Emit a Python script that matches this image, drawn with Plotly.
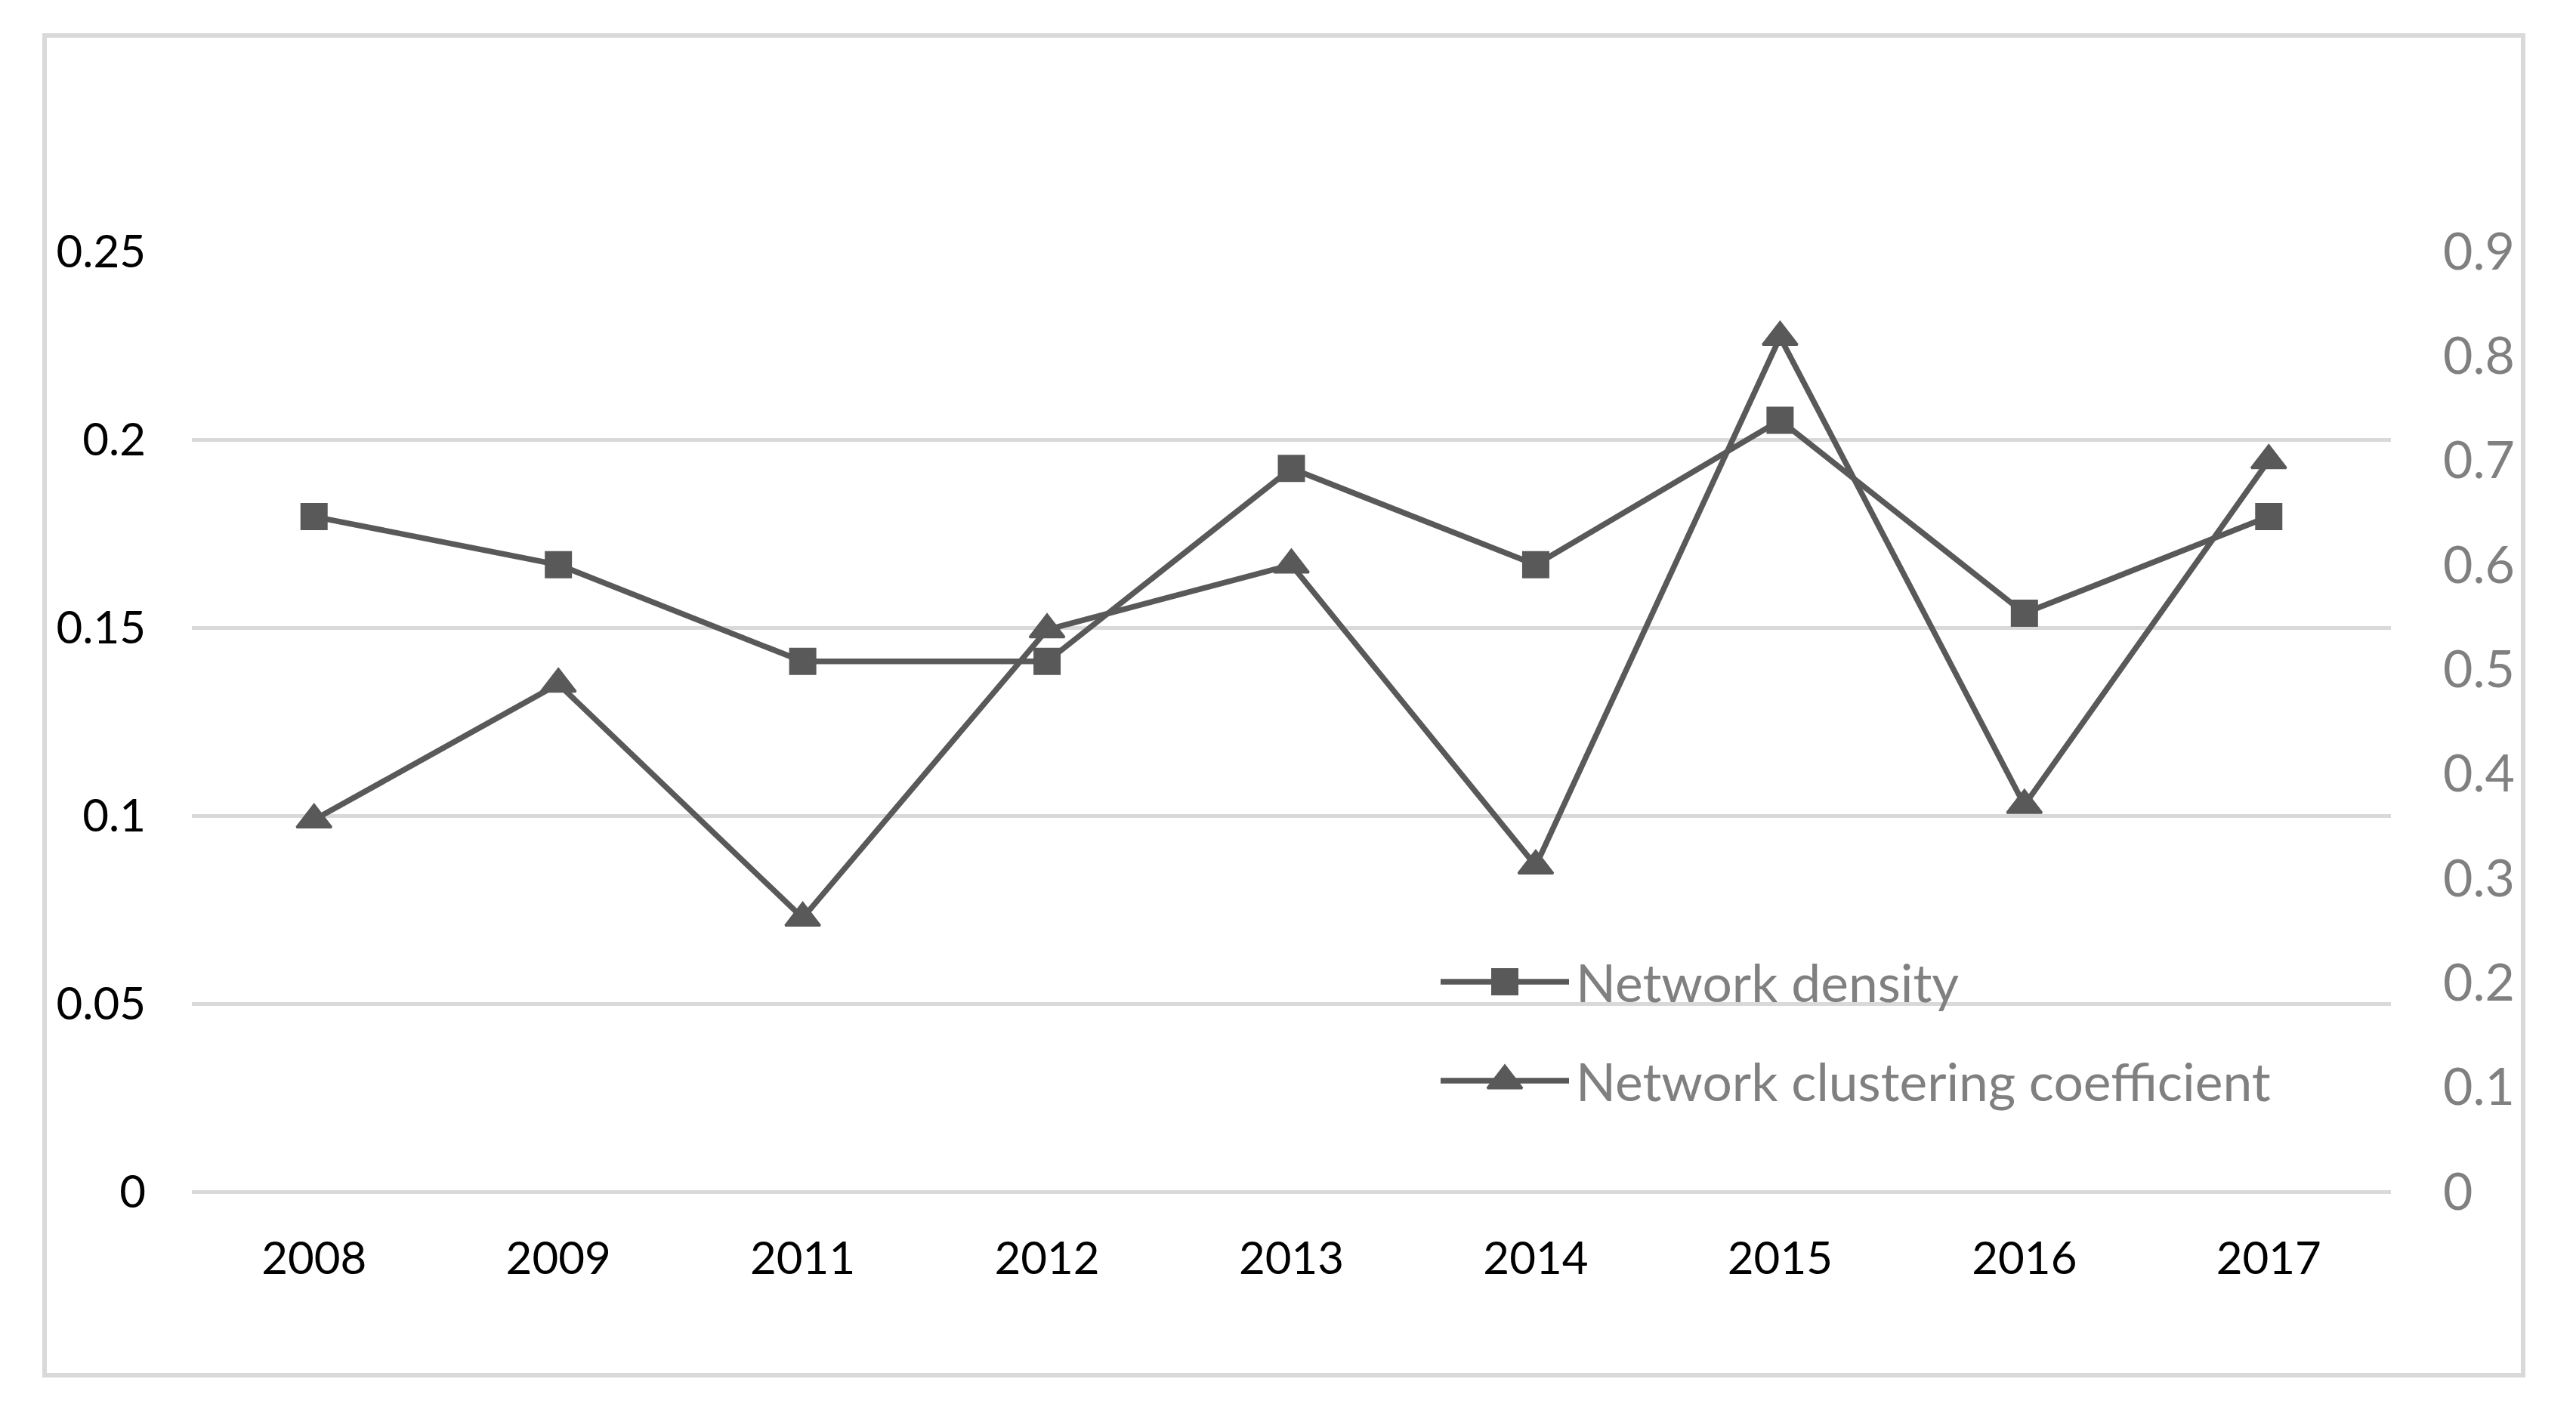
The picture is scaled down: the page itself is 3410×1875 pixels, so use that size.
import plotly.graph_objects as go

# ---- data ----
years = ["2008", "2009", "2011", "2012", "2013", "2014", "2015", "2016", "2017"]
density = [0.1795, 0.1667, 0.1410, 0.1410, 0.1923, 0.1667, 0.2051, 0.1538, 0.1795]
clustering = [0.356, 0.486, 0.262, 0.538, 0.600, 0.312, 0.818, 0.370, 0.700]
left_ticks = [0, 0.05, 0.1, 0.15, 0.2, 0.25]
left_labels = ["0", "0.05", "0.1", "0.15", "0.2", "0.25"]
right_ticks = [0, 0.1, 0.2, 0.3, 0.4, 0.5, 0.6, 0.7, 0.8, 0.9]
right_labels = ["0", "0.1", "0.2", "0.3", "0.4", "0.5", "0.6", "0.7", "0.8", "0.9"]
series_names = ["Network density", "Network clustering coefficient"]

# ---- layout geometry (page pixels; the page body has an 8px margin) ----
OFF = 8
PAGE_W, PAGE_H = 3410, 1875
W, H = PAGE_W - 2 * OFF, PAGE_H - 2 * OFF
plot_x0, plot_x1 = 254 - OFF, 3165 - OFF
plot_y0, plot_y1 = 333 - OFF, 1578 - OFF
L, R = plot_x0, W - plot_x1
T, B = plot_y0, H - plot_y1
PW, PH = plot_x1 - plot_x0, plot_y1 - plot_y0

def px_x(p):  # page pixel -> paper
    return (p - OFF - L) / PW

def px_y(p):
    return (plot_y1 - (p - OFF)) / PH

LINE = "#595959"
GRID = "#d9d9d9"
FONT = "Lato"

fig = go.Figure()

fig.add_trace(go.Scatter(
    x=years, y=density, name=series_names[0], mode="lines+markers",
    line=dict(color=LINE, width=7.5),
    marker=dict(symbol="square", size=36, color=LINE),
    yaxis="y", showlegend=False, cliponaxis=False))

fig.add_trace(go.Scatter(
    x=years, y=clustering, name=series_names[1], mode="lines+markers",
    line=dict(color=LINE, width=7.5),
    marker=dict(symbol="triangle-up", size=40, color=LINE,
                line=dict(color=LINE, width=3)),
    yaxis="y2", showlegend=False, cliponaxis=False))

# ---- custom legend (samples on a pixel-space overlay axis) ----
leg_x0, leg_x1 = 1907 - OFF, 2077 - OFF
leg_y = [1300 - OFF, 1431 - OFF]
symbols = ["square", "triangle-up"]
msizes = [36, 40]
for i in range(2):
    fig.add_trace(go.Scatter(
        x=[leg_x0, leg_x1], y=[leg_y[i], leg_y[i]], mode="lines",
        line=dict(color=LINE, width=7.5), xaxis="x3", yaxis="y3",
        showlegend=False, hoverinfo="skip", cliponaxis=False))
    fig.add_trace(go.Scatter(
        x=[(leg_x0 + leg_x1) / 2], y=[leg_y[i]], mode="markers",
        marker=dict(symbol=symbols[i], size=msizes[i], color=LINE,
                    line=dict(color=LINE, width=3 if i == 1 else 0)),
        xaxis="x3", yaxis="y3", showlegend=False, hoverinfo="skip",
        cliponaxis=False))

annotations = []
for i in range(2):
    annotations.append(dict(
        x=px_x(2084), y=px_y(leg_y[i] + OFF), xref="paper", yref="paper",
        text=series_names[i], showarrow=False, xanchor="left", yanchor="middle",
        font=dict(family=FONT, size=69.5, color="#808080")))

fig.update_layout(
    width=W, height=H,
    margin=dict(l=L, r=R, t=T, b=B, pad=0),
    paper_bgcolor="white", plot_bgcolor="white",
    font=dict(family=FONT),
    xaxis=dict(type="category", range=[-0.5, 8.5], showgrid=False, showline=False,
               zeroline=False, ticks="", ticklabelstandoff=48,
               tickfont=dict(family=FONT, size=60, color="black")),
    yaxis=dict(range=[0, 0.25], tickvals=left_ticks, ticktext=left_labels,
               showgrid=True, gridcolor=GRID, gridwidth=5,
               zeroline=True, zerolinecolor=GRID, zerolinewidth=5,
               showline=False, ticks="", ticklabelstandoff=60,
               tickfont=dict(family=FONT, size=60, color="black")),
    yaxis2=dict(range=[0, 0.9], tickvals=right_ticks, ticktext=right_labels,
                overlaying="y", side="right", showgrid=False, zeroline=False,
                showline=False, ticks="", ticklabelstandoff=68,
                tickfont=dict(family=FONT, size=68, color="#808080")),
    xaxis3=dict(range=[plot_x0, plot_x1], overlaying="x", visible=False, fixedrange=True),
    yaxis3=dict(range=[plot_y1, plot_y0], overlaying="y", visible=False, fixedrange=True),
    annotations=annotations,
    shapes=[dict(type="rect", xref="paper", yref="paper",
                 x0=px_x(59), x1=px_x(3340), y0=px_y(1821), y1=px_y(47),
                 line=dict(color=GRID, width=6), layer="below")],
)

fig.write_html("out.html")
